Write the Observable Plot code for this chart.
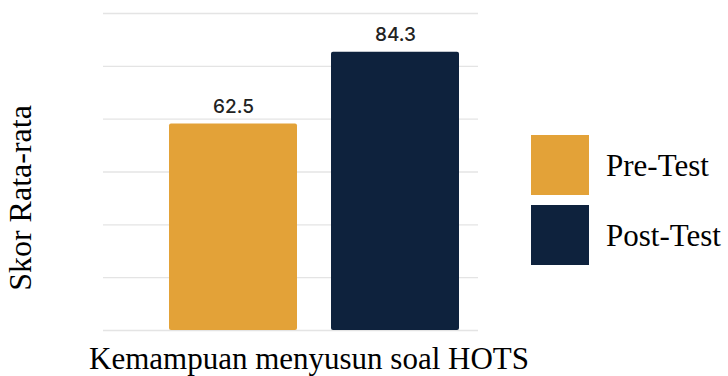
<!DOCTYPE html>
<html>
<head>
<meta charset="utf-8">
<script src="https://cdn.jsdelivr.net/npm/d3@7"></script>
<script src="https://cdn.jsdelivr.net/npm/@observablehq/plot@0.6"></script>
<style>
  html, body { margin: 0; padding: 0; background: #fff; }
  #wrap { position: relative; width: 728px; height: 376px; overflow: hidden; }
  #wrap svg { position: absolute; left: 0; top: 0; }
  .serif { font-family: "Liberation Serif", "Times New Roman", serif; color: #000; position: absolute; white-space: nowrap; line-height: 1; }
  #ylab { font-size: 32px; left: 20px; top: 198px; transform: translate(-50%, -50%) rotate(-90deg); }
  #xlab { font-size: 31px; left: 89px; top: 343px; }
  .legend-item { position: absolute; left: 531px; display: flex; align-items: center; }
  .sw { width: 58px; height: 60px; }
  .legend-item span { font-family: "Liberation Serif", "Times New Roman", serif; font-size: 31px; margin-left: 17px; line-height: 1; }
</style>
</head>
<body>
<div id="wrap"></div>
<script>
const categories = ["Pre-Test", "Post-Test"];
const values = [62.5, 84.3];
const colors = ["#E3A238", "#0E223D"];
const yTicks = [0, 16, 32, 48, 64, 80, 96];
const yLabel = "Skor Rata-rata";
const xLabel = "Kemampuan menyusun soal HOTS";

const data = categories.map((c, i) => ({cat: c, value: values[i]}));

const chart = Plot.plot({
  width: 728,
  height: 376,
  marginLeft: 103,
  marginRight: 250,
  marginTop: 13,
  marginBottom: 46,
  x: {domain: categories, range: [151.5, 475.5], paddingInner: 0.212, paddingOuter: 0.106, axis: null},
  y: {domain: [0, 96], axis: null},
  color: {domain: categories, range: colors},
  marks: [
    Plot.ruleY(yTicks, {stroke: "#e4e4e4", strokeWidth: 1.3}),
    Plot.barY(data, {x: "cat", y: "value", fill: "cat", rx: 2}),
    Plot.text(data, {x: "cat", y: "value", text: d => d.value.toFixed(1), dy: -17, fontSize: 19, fontWeight: 500, fontFamily: "Inter, 'Noto Sans', sans-serif", fill: "#222"})
  ]
});

const wrap = document.getElementById("wrap");
wrap.appendChild(chart);

const yl = document.createElement("div");
yl.id = "ylab"; yl.className = "serif"; yl.textContent = yLabel;
wrap.appendChild(yl);

const xl = document.createElement("div");
xl.id = "xlab"; xl.className = "serif"; xl.textContent = xLabel;
wrap.appendChild(xl);

const tops = [135, 205];
categories.forEach((c, i) => {
  const item = document.createElement("div");
  item.className = "legend-item";
  item.style.top = tops[i] + "px";
  const sw = document.createElement("div");
  sw.className = "sw";
  sw.style.background = colors[i];
  const t = document.createElement("span");
  t.textContent = c;
  item.appendChild(sw); item.appendChild(t);
  wrap.appendChild(item);
});
</script>
</body>
</html>
